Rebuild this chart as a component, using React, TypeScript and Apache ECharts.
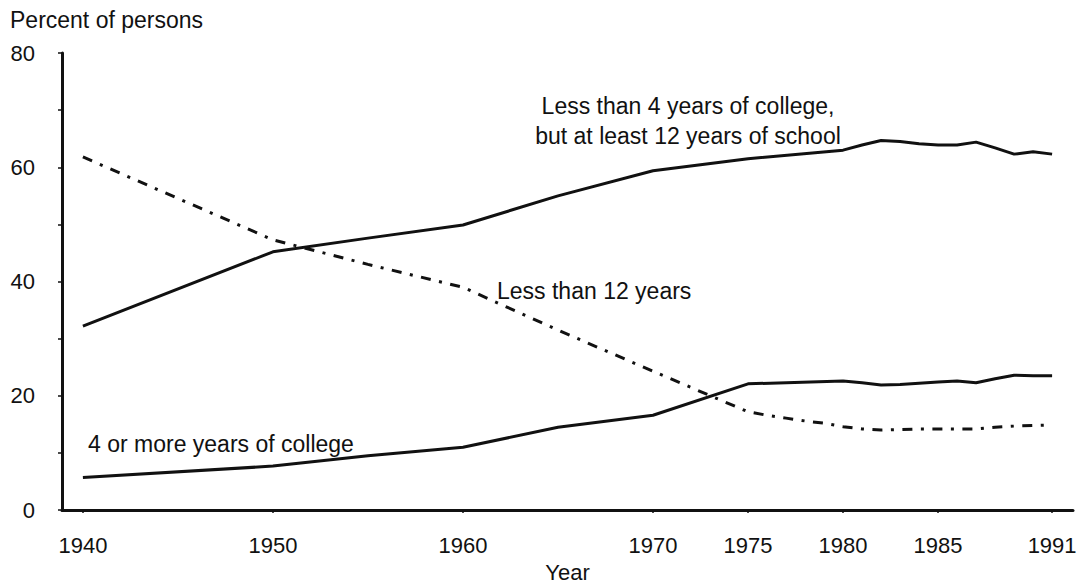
import React, { useEffect, useRef } from 'react';
import * as echarts from 'echarts';

// Years with observations for the two solid lines
const YEARS = [1940, 1950, 1955, 1960, 1965, 1970, 1975, 1980, 1981, 1982, 1983, 1984, 1985, 1986, 1987, 1988, 1989, 1990, 1991];
// Less than 4 years of college, but at least 12 years of school
const HIGH_SCHOOL_NOT_COLLEGE = [32.2, 45.2, 47.6, 49.9, 55.0, 59.4, 61.5, 63.0, 63.9, 64.7, 64.5, 64.1, 63.9, 63.9, 64.4, 63.4, 62.3, 62.7, 62.3];
// 4 or more years of college
const COLLEGE_4_PLUS = [5.7, 7.7, 9.5, 11.0, 14.5, 16.6, 22.1, 22.6, 22.3, 21.9, 22.0, 22.2, 22.4, 22.6, 22.3, 23.0, 23.6, 23.5, 23.5];
// Less than 12 years
const YEARS_LESS_THAN_12 = [1940, 1950, 1955, 1960, 1965, 1970, 1975, 1976, 1977, 1978, 1979, 1980, 1981, 1982, 1983, 1984, 1985, 1986, 1987, 1988, 1989, 1990, 1991];
const LESS_THAN_12 = [61.8, 47.3, 43.0, 39.0, 31.5, 24.3, 17.2, 16.6, 16.1, 15.6, 15.2, 14.6, 14.2, 14.0, 14.1, 14.2, 14.2, 14.2, 14.2, 14.5, 14.7, 14.8, 14.9];

const X_TICKS = [1940, 1950, 1960, 1970, 1975, 1980, 1985, 1991];

const FONT = '"Liberation Sans", Arial, Helvetica, sans-serif';
const INK = '#111111';

export default function App() {
  const ref = useRef<HTMLDivElement>(null);

  useEffect(() => {
    document.body.style.margin = '0';
    const chart = echarts.init(ref.current as HTMLDivElement, null, { renderer: 'svg' });
    const pairs = (xs: number[], ys: number[]) => xs.map((x, i) => [x, ys[i]]);
    chart.setOption({
      animation: false,
      backgroundColor: '#ffffff',
      grid: { left: 62, right: 7, top: 53, bottom: 68 },
      xAxis: {
        type: 'value',
        min: 1938.9,
        max: 1992.1,
        name: 'Year',
        nameLocation: 'middle',
        nameGap: 41,
        nameTextStyle: { fontFamily: FONT, fontSize: 22, color: INK },
        axisLine: { show: true, onZero: false, lineStyle: { color: INK, width: 3 } },
        axisTick: { show: true, customValues: X_TICKS, length: 3, lineStyle: { color: INK, width: 1.5 } },
        axisLabel: {
          customValues: X_TICKS,
          margin: 24,
          fontFamily: FONT,
          fontSize: 22,
          color: INK,
          formatter: (v: number) => String(v),
        },
        splitLine: { show: false },
      },
      yAxis: {
        type: 'value',
        min: 0,
        max: 80,
        interval: 20,
        axisLine: { show: true, lineStyle: { color: INK, width: 3 } },
        axisTick: { show: true, length: 4, lineStyle: { color: INK, width: 1.5 } },
        minorTick: { show: true, splitNumber: 2, length: 4, lineStyle: { color: INK, width: 1.5 } },
        axisLabel: {
          margin: 27,
          padding: [8, 0, 0, 0],
          fontFamily: FONT,
          fontSize: 22,
          color: INK,
        },
        splitLine: { show: false },
      },
      series: [
        {
          name: 'Less than 4 years of college, but at least 12 years of school',
          type: 'line',
          data: pairs(YEARS, HIGH_SCHOOL_NOT_COLLEGE),
          showSymbol: false,
          silent: true,
          lineStyle: { color: INK, width: 3 },
        },
        {
          name: '4 or more years of college',
          type: 'line',
          data: pairs(YEARS, COLLEGE_4_PLUS),
          showSymbol: false,
          silent: true,
          lineStyle: { color: INK, width: 3 },
        },
        {
          name: 'Less than 12 years',
          type: 'line',
          data: pairs(YEARS_LESS_THAN_12, LESS_THAN_12),
          showSymbol: false,
          silent: true,
          lineStyle: { color: INK, width: 3, type: [10, 8.5, 3, 8.5], cap: 'butt' },
        },
      ],
      graphic: [
        {
          type: 'text',
          x: 10,
          y: 20,
          style: { text: 'Percent of persons', font: `23px ${FONT}`, fill: INK, textAlign: 'left', textVerticalAlign: 'middle' },
        },
        {
          type: 'text',
          x: 688,
          y: 121,
          style: {
            text: 'Less than 4 years of college,\nbut at least 12 years of school',
            font: `23px ${FONT}`,
            lineHeight: 30,
            fill: INK,
            textAlign: 'center',
            textVerticalAlign: 'middle',
          },
        },
        {
          type: 'text',
          x: 497,
          y: 291,
          style: { text: 'Less than 12 years', font: `23px ${FONT}`, fill: INK, textAlign: 'left', textVerticalAlign: 'middle' },
        },
        {
          type: 'text',
          x: 88,
          y: 444,
          style: { text: '4 or more years of college', font: `23px ${FONT}`, fill: INK, textAlign: 'left', textVerticalAlign: 'middle' },
        },
      ],
    });
    return () => chart.dispose();
  }, []);

  return <div ref={ref} style={{ width: 1080, height: 588 }} />;
}
